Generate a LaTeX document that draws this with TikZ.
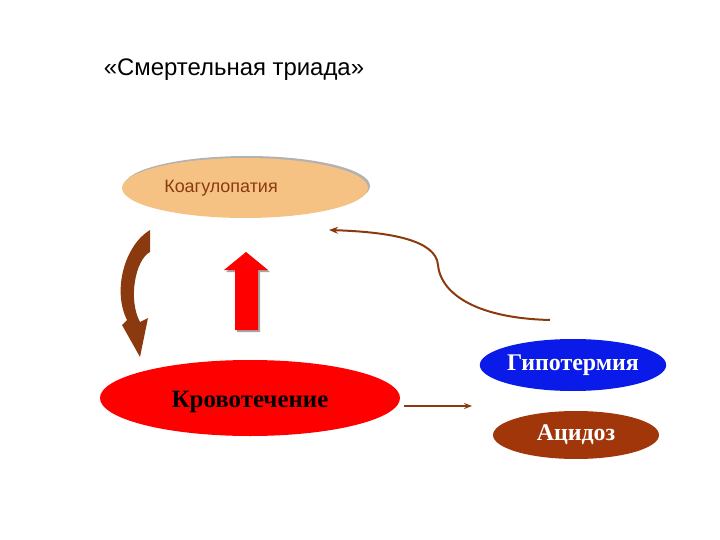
\documentclass[tikz,border=0pt]{standalone}
\usepackage{fontspec}
\setmainfont{Liberation Serif}
\newfontfamily\sans{Liberation Sans}
\usetikzlibrary{arrows.meta,shapes.geometric}
\definecolor{coag}{HTML}{F5C283}
\definecolor{brn}{HTML}{8B3A10}
\definecolor{acid}{HTML}{A0360A}
\definecolor{blu}{HTML}{0A1AE8}
\tikzset{oval/.style={ellipse,inner sep=0pt},
 conn/.style={brn,line width=2pt,-{Stealth[length=9pt,width=7pt]}}}
\begin{document}
\begin{tikzpicture}[x=1bp,y=1bp]
\useasboundingbox (0,0) rectangle (720,-540);
\node (title) at (234,-70) {\sans\fontsize{24}{28}\selectfont «Смертельная триада»};
\node[oval,fill=gray!60,minimum width=246bp,minimum height=60bp] (coags) at (247,-186) {};
\node[oval,fill=coag,minimum width=246bp,minimum height=60bp] (coag) at (245,-188) {};
\node[text=brn] (coagt) at (221,-188) {\sans\fontsize{18}{20}\selectfont Коагулопатия};
\node[oval,fill=red,minimum width=300bp,minimum height=76bp] (bleed) at (250,-398) {};
\node (bleedt) at (250,-402) {\bfseries\fontsize{25}{28}\selectfont Кровотечение};
\node[oval,fill=blu,minimum width=170bp,minimum height=52bp,text=white,font=\bfseries\fontsize{24}{26}\selectfont] (hypo) at (573,-365) {Гипотермия};
\node[oval,fill=acid,minimum width=166bp,minimum height=48bp,text=white,font=\bfseries\fontsize{24}{26}\selectfont] (acid) at (576,-435) {Ацидоз};
% red up arrow
\fill[gray!70] (237,-332) -- (237,-272) -- (226,-272) -- (248,-254) -- (270,-272) -- (260,-272) -- (260,-332) -- cycle;
\fill[red] (235,-330) -- (235,-270) -- (224,-270) -- (246,-252) -- (268,-270) -- (258,-270) -- (258,-330) -- cycle;
% left curved brown arrow
\fill[brn] (150,-230) .. controls (125,-245) and (112,-290) .. (127,-320) -- (122,-325) -- (140,-357) -- (148,-318) -- (140,-322)
 .. controls (128,-300) and (135,-260) .. (150,-252) -- cycle;
\coordinate (c1) at (550,-320);
\coordinate (c2) at (329,-230);
\draw[conn] (c1) .. controls (470,-318) and (440,-290) .. (438,-265) .. controls (436,-240) and (390,-232) .. (c2);
\coordinate (b1) at (404,-406);
\coordinate (b2) at (472,-406);
\draw[brn,line width=1.5pt,-{Stealth[length=8pt,width=6pt]}] (b1) -- (b2);
\end{tikzpicture}
\end{document}
